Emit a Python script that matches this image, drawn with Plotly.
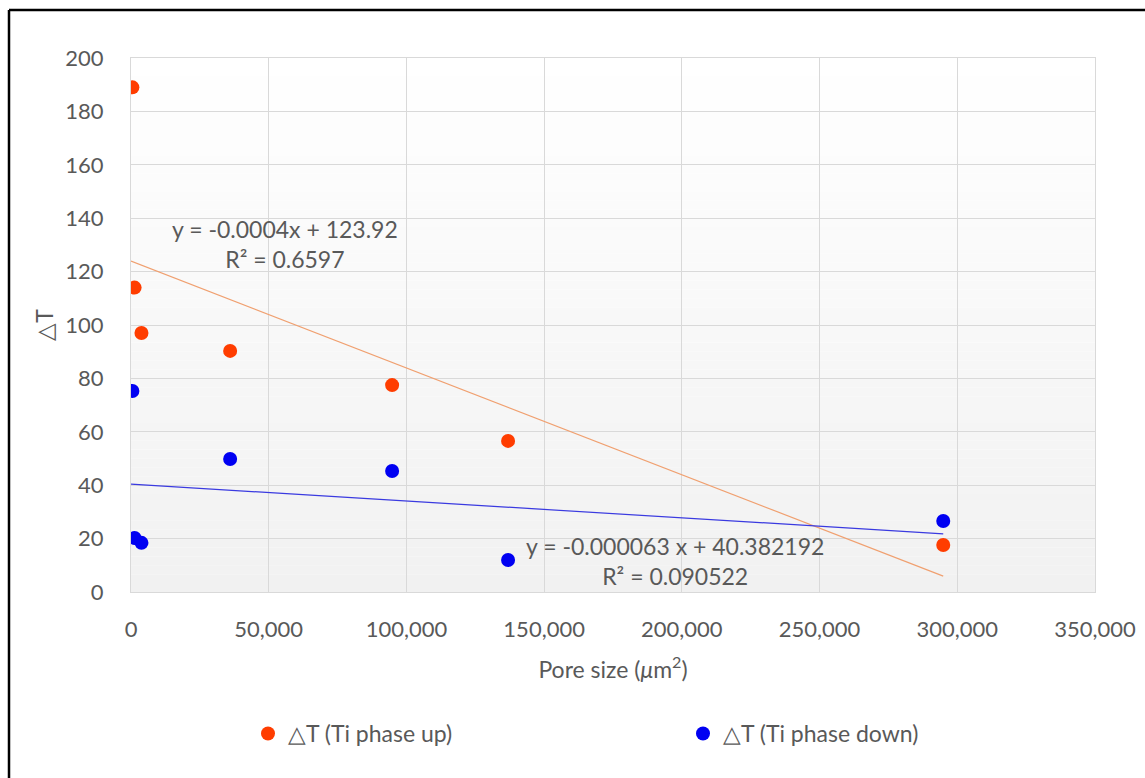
import numpy as np
import plotly.graph_objects as go

# Pore size (µm²) shared by both series
pore_size = [500, 1300, 3800, 36000, 94800, 136900, 294900]
# ΔT values
dt_up = [189.0, 114.0, 97.0, 90.3, 77.5, 56.6, 17.6]
dt_down = [75.3, 20.2, 18.4, 49.8, 45.3, 12.0, 26.6]

# Linear trend coefficients (slope, intercept) and R²
fit_up = (-0.0004, 123.92, 0.6597)
fit_down = (-0.000063, 40.382192, 0.090522)

x_ticks = list(range(0, 350001, 50000))
y_ticks = list(range(0, 201, 20))

FONT = "Lato, 'Open Sans', sans-serif"
TXT = "#595959"
GRID = "#d9d9d9"
C_UP = "#ff3d00"
C_DOWN = "#0000f2"

W, H = 1145, 778
ML, MR, MT, MB = 131, 50, 58, 186

fig = go.Figure()

# trend lines drawn from the stated equations over the data span
xt = np.array([0, max(pore_size)])
fig.add_trace(go.Scatter(x=xt, y=fit_up[0] * xt + fit_up[1], mode="lines",
                         line=dict(color="#f0a070", width=1.2),
                         showlegend=False, hoverinfo="skip"))
fig.add_trace(go.Scatter(x=xt, y=fit_down[0] * xt + fit_down[1], mode="lines",
                         line=dict(color="#3a3ae0", width=1.2),
                         showlegend=False, hoverinfo="skip"))

fig.add_trace(go.Scatter(x=pore_size, y=dt_up, mode="markers", name="△T (Ti phase up)",
                         marker=dict(color=C_UP, size=14)))
fig.add_trace(go.Scatter(x=pore_size, y=dt_down, mode="markers", name="△T (Ti phase down)",
                         marker=dict(color=C_DOWN, size=14)))

# vertical gradient in the plot area: white at top to light grey at bottom
shapes = []
n = 60
for i in range(n):
    t = (i + 0.5) / n  # 0 bottom .. 1 top
    v = int(round(241 + (255 - 241) * t))
    shapes.append(dict(type="rect", xref="paper", yref="paper",
                       x0=0, x1=1, y0=i / n, y1=(i + 1) / n,
                       fillcolor=f"rgb({v},{v},{v})", line=dict(width=0),
                       layer="below"))

# frame lines around the chart
pw, ph = W - ML - MR, H - MT - MB
def px(x):
    return (x - ML) / pw
def py(y):
    return (H - MB - y) / ph

shapes.append(dict(type="line", xref="paper", yref="paper",
                   x0=px(9), x1=px(W + 5), y0=py(10), y1=py(10),
                   line=dict(color="black", width=2.5)))
shapes.append(dict(type="line", xref="paper", yref="paper",
                   x0=px(9), x1=px(9), y0=py(10), y1=py(H + 5),
                   line=dict(color="black", width=2.5)))

annotations = [
    dict(x=56000, y=130.5, xref="x", yref="y",
         text=f"y = {fit_up[0]}x + {fit_up[1]}<br>R² = {fit_up[2]}",
         showarrow=False, align="center", font=dict(family=FONT, size=23, color=TXT)),
    dict(x=197500, y=11.5, xref="x", yref="y",
         text=f"y = {fit_down[0]:.6f} x + {fit_down[1]}<br>R² = {fit_down[2]}",
         showarrow=False, align="center", font=dict(family=FONT, size=23, color=TXT)),
]

fig.update_layout(
    width=W, height=H,
    margin=dict(l=ML, r=MR, t=MT, b=MB),
    paper_bgcolor="white", plot_bgcolor="rgba(0,0,0,0)",
    font=dict(family=FONT, size=22, color=TXT),
    shapes=shapes, annotations=annotations,
    legend=dict(orientation="h", x=px(248), y=py(712), xanchor="left", yanchor="top",
                entrywidth=390, entrywidthmode="pixels",
                font=dict(family=FONT, size=23, color=TXT), bgcolor="rgba(0,0,0,0)"),
)

fig.update_xaxes(range=[0, 350000], tickvals=x_ticks, tickformat=",d",
                 automargin=False,
                 tickfont=dict(family=FONT, size=22, color=TXT),
                 showgrid=True, gridcolor=GRID, gridwidth=1,
                 showline=True, linecolor=GRID, mirror=True, zeroline=False,
                 ticks="outside", ticklen=18, tickcolor="rgba(0,0,0,0)",
                 title=dict(text="Pore size (<i>μ</i>m<sup>2</sup>)", standoff=20,
                            font=dict(family=FONT, size=23, color=TXT)))
fig.update_yaxes(range=[0, 200], tickvals=y_ticks,
                 automargin=False,
                 tickfont=dict(family=FONT, size=22, color=TXT),
                 showgrid=True, gridcolor=GRID, gridwidth=1,
                 showline=True, linecolor=GRID, mirror=True, zeroline=False,
                 ticks="outside", ticklen=22, tickcolor="rgba(0,0,0,0)",
                 title=dict(text="△T", standoff=5,
                            font=dict(family=FONT, size=23, color=TXT)))

fig.write_html("out.html")
